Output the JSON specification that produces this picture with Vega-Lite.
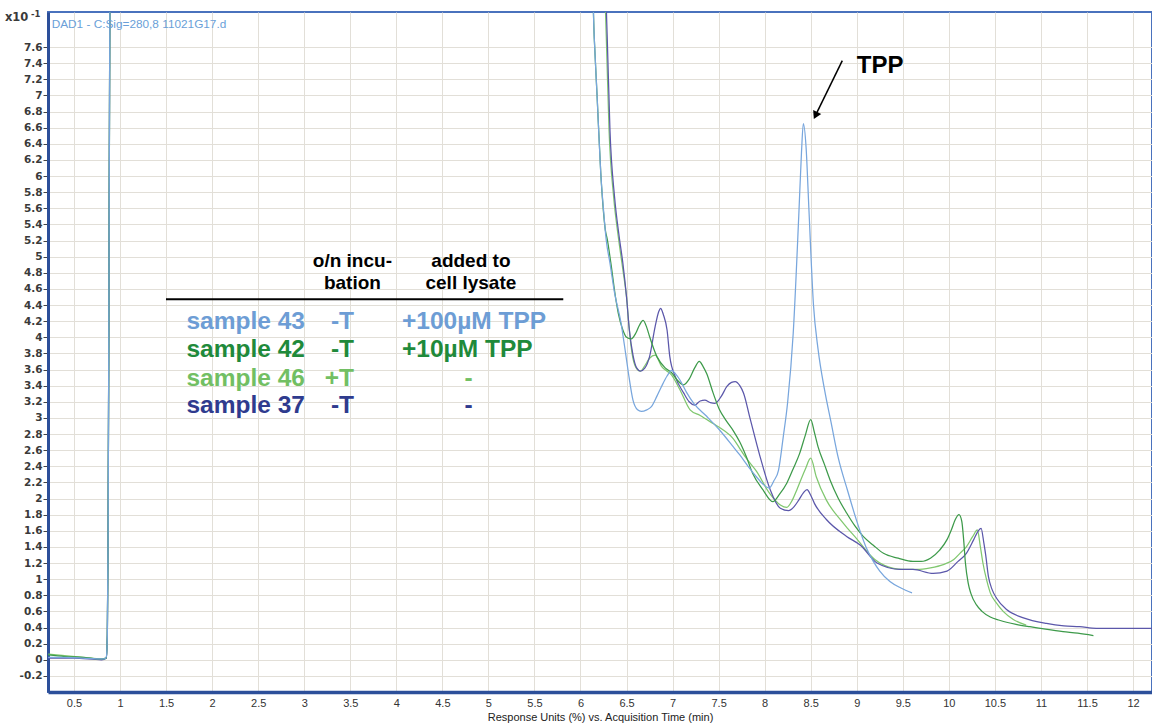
{
  "$schema": "https://vega.github.io/schema/vega-lite/v6.json",
  "width": 1104,
  "height": 680,
  "autosize": {"type": "none"},
  "padding": {"left": 48, "top": 12, "right": 0, "bottom": 35},
  "background": "white",
  "config": {
    "font": "Liberation Sans",
    "view": {"stroke": "#4a72bd", "strokeWidth": 2},
    "axis": {"gridColor": "#e2dfd8", "gridWidth": 1, "labelFont": "Liberation Sans", "labelColor": "#333333", "labelFontSize": 11}
  },
  "datasets": {
    "curves": [
      {"sample": "sample 46", "x": 0.22, "y": 0.07}, {"sample": "sample 46", "x": 0.4, "y": 0.05}, {"sample": "sample 46", "x": 0.6, "y": 0.03}, {"sample": "sample 46", "x": 0.8, "y": 0.01}, {"sample": "sample 46", "x": 0.85, "y": 0.02}, {"sample": "sample 46", "x": 0.862, "y": 0.3}, {"sample": "sample 46", "x": 0.87, "y": 1.5}, {"sample": "sample 46", "x": 0.878, "y": 4.0}, {"sample": "sample 46", "x": 0.886, "y": 7.0}, {"sample": "sample 46", "x": 0.892, "y": 8.6},
      {"sample": "sample 46", "x": 6.25, "y": 8.6}, {"sample": "sample 46", "x": 6.28, "y": 7.73}, {"sample": "sample 46", "x": 6.31, "y": 6.57}, {"sample": "sample 46", "x": 6.36, "y": 5.74}, {"sample": "sample 46", "x": 6.41, "y": 5.25}, {"sample": "sample 46", "x": 6.46, "y": 4.84}, {"sample": "sample 46", "x": 6.5, "y": 4.5}, {"sample": "sample 46", "x": 6.53, "y": 4.09}, {"sample": "sample 46", "x": 6.56, "y": 3.8}, {"sample": "sample 46", "x": 6.6, "y": 3.63}, {"sample": "sample 46", "x": 6.65, "y": 3.58}, {"sample": "sample 46", "x": 6.7, "y": 3.65}, {"sample": "sample 46", "x": 6.75, "y": 3.74}, {"sample": "sample 46", "x": 6.81, "y": 3.78}, {"sample": "sample 46", "x": 6.88, "y": 3.64}, {"sample": "sample 46", "x": 6.99, "y": 3.53}, {"sample": "sample 46", "x": 7.08, "y": 3.35}, {"sample": "sample 46", "x": 7.19, "y": 3.1}, {"sample": "sample 46", "x": 7.3, "y": 3.03}, {"sample": "sample 46", "x": 7.44, "y": 2.93}, {"sample": "sample 46", "x": 7.55, "y": 2.85}, {"sample": "sample 46", "x": 7.66, "y": 2.74}, {"sample": "sample 46", "x": 7.73, "y": 2.62}, {"sample": "sample 46", "x": 7.8, "y": 2.5}, {"sample": "sample 46", "x": 7.91, "y": 2.34}, {"sample": "sample 46", "x": 8.05, "y": 2.07}, {"sample": "sample 46", "x": 8.17, "y": 1.92}, {"sample": "sample 46", "x": 8.24, "y": 1.89}, {"sample": "sample 46", "x": 8.3, "y": 1.98}, {"sample": "sample 46", "x": 8.35, "y": 2.11}, {"sample": "sample 46", "x": 8.44, "y": 2.36}, {"sample": "sample 46", "x": 8.5, "y": 2.5}, {"sample": "sample 46", "x": 8.56, "y": 2.27}, {"sample": "sample 46", "x": 8.67, "y": 1.98}, {"sample": "sample 46", "x": 8.82, "y": 1.74}, {"sample": "sample 46", "x": 8.9, "y": 1.63}, {"sample": "sample 46", "x": 9.0, "y": 1.5}, {"sample": "sample 46", "x": 9.1, "y": 1.36}, {"sample": "sample 46", "x": 9.2, "y": 1.24}, {"sample": "sample 46", "x": 9.3, "y": 1.17}, {"sample": "sample 46", "x": 9.5, "y": 1.12}, {"sample": "sample 46", "x": 9.65, "y": 1.12}, {"sample": "sample 46", "x": 9.8, "y": 1.14}, {"sample": "sample 46", "x": 9.94, "y": 1.18}, {"sample": "sample 46", "x": 10.05, "y": 1.24}, {"sample": "sample 46", "x": 10.12, "y": 1.32}, {"sample": "sample 46", "x": 10.19, "y": 1.4}, {"sample": "sample 46", "x": 10.26, "y": 1.53}, {"sample": "sample 46", "x": 10.31, "y": 1.61}, {"sample": "sample 46", "x": 10.34, "y": 1.42}, {"sample": "sample 46", "x": 10.37, "y": 1.2}, {"sample": "sample 46", "x": 10.41, "y": 0.99}, {"sample": "sample 46", "x": 10.45, "y": 0.83}, {"sample": "sample 46", "x": 10.52, "y": 0.7}, {"sample": "sample 46", "x": 10.59, "y": 0.6}, {"sample": "sample 46", "x": 10.7, "y": 0.5}, {"sample": "sample 46", "x": 10.84, "y": 0.43},

      {"sample": "sample 37", "x": 0.22, "y": 0.02}, {"sample": "sample 37", "x": 0.5, "y": 0.02}, {"sample": "sample 37", "x": 0.8, "y": 0.0}, {"sample": "sample 37", "x": 0.85, "y": 0.02}, {"sample": "sample 37", "x": 0.862, "y": 0.3}, {"sample": "sample 37", "x": 0.87, "y": 1.5}, {"sample": "sample 37", "x": 0.878, "y": 4.0}, {"sample": "sample 37", "x": 0.886, "y": 7.0}, {"sample": "sample 37", "x": 0.892, "y": 8.6},
      {"sample": "sample 37", "x": 6.26, "y": 8.6}, {"sample": "sample 37", "x": 6.29, "y": 7.73}, {"sample": "sample 37", "x": 6.32, "y": 6.57}, {"sample": "sample 37", "x": 6.37, "y": 5.74}, {"sample": "sample 37", "x": 6.42, "y": 5.25}, {"sample": "sample 37", "x": 6.46, "y": 4.92}, {"sample": "sample 37", "x": 6.5, "y": 4.5}, {"sample": "sample 37", "x": 6.53, "y": 4.1}, {"sample": "sample 37", "x": 6.57, "y": 3.78}, {"sample": "sample 37", "x": 6.61, "y": 3.62}, {"sample": "sample 37", "x": 6.65, "y": 3.58}, {"sample": "sample 37", "x": 6.7, "y": 3.62}, {"sample": "sample 37", "x": 6.75, "y": 3.76}, {"sample": "sample 37", "x": 6.81, "y": 4.13}, {"sample": "sample 37", "x": 6.85, "y": 4.32}, {"sample": "sample 37", "x": 6.87, "y": 4.36}, {"sample": "sample 37", "x": 6.9, "y": 4.28}, {"sample": "sample 37", "x": 6.94, "y": 4.09}, {"sample": "sample 37", "x": 6.97, "y": 3.76}, {"sample": "sample 37", "x": 7.03, "y": 3.51}, {"sample": "sample 37", "x": 7.12, "y": 3.31}, {"sample": "sample 37", "x": 7.18, "y": 3.2}, {"sample": "sample 37", "x": 7.24, "y": 3.16}, {"sample": "sample 37", "x": 7.3, "y": 3.21}, {"sample": "sample 37", "x": 7.35, "y": 3.22}, {"sample": "sample 37", "x": 7.41, "y": 3.19}, {"sample": "sample 37", "x": 7.46, "y": 3.18}, {"sample": "sample 37", "x": 7.53, "y": 3.27}, {"sample": "sample 37", "x": 7.59, "y": 3.39}, {"sample": "sample 37", "x": 7.64, "y": 3.44}, {"sample": "sample 37", "x": 7.68, "y": 3.45}, {"sample": "sample 37", "x": 7.73, "y": 3.4}, {"sample": "sample 37", "x": 7.77, "y": 3.31}, {"sample": "sample 37", "x": 7.84, "y": 3.0}, {"sample": "sample 37", "x": 7.95, "y": 2.52}, {"sample": "sample 37", "x": 8.06, "y": 2.11}, {"sample": "sample 37", "x": 8.17, "y": 1.88}, {"sample": "sample 37", "x": 8.26, "y": 1.85}, {"sample": "sample 37", "x": 8.32, "y": 1.9}, {"sample": "sample 37", "x": 8.37, "y": 1.98}, {"sample": "sample 37", "x": 8.42, "y": 2.07}, {"sample": "sample 37", "x": 8.46, "y": 2.11}, {"sample": "sample 37", "x": 8.5, "y": 2.04}, {"sample": "sample 37", "x": 8.54, "y": 1.94}, {"sample": "sample 37", "x": 8.67, "y": 1.74}, {"sample": "sample 37", "x": 8.89, "y": 1.53}, {"sample": "sample 37", "x": 9.04, "y": 1.42}, {"sample": "sample 37", "x": 9.22, "y": 1.2}, {"sample": "sample 37", "x": 9.47, "y": 1.12}, {"sample": "sample 37", "x": 9.61, "y": 1.12}, {"sample": "sample 37", "x": 9.83, "y": 1.07}, {"sample": "sample 37", "x": 9.98, "y": 1.1}, {"sample": "sample 37", "x": 10.1, "y": 1.22}, {"sample": "sample 37", "x": 10.19, "y": 1.32}, {"sample": "sample 37", "x": 10.27, "y": 1.49}, {"sample": "sample 37", "x": 10.32, "y": 1.6}, {"sample": "sample 37", "x": 10.35, "y": 1.63}, {"sample": "sample 37", "x": 10.38, "y": 1.45}, {"sample": "sample 37", "x": 10.4, "y": 1.3}, {"sample": "sample 37", "x": 10.43, "y": 1.03}, {"sample": "sample 37", "x": 10.47, "y": 0.87}, {"sample": "sample 37", "x": 10.52, "y": 0.76}, {"sample": "sample 37", "x": 10.63, "y": 0.62}, {"sample": "sample 37", "x": 10.81, "y": 0.52}, {"sample": "sample 37", "x": 11.06, "y": 0.45}, {"sample": "sample 37", "x": 11.25, "y": 0.42}, {"sample": "sample 37", "x": 11.42, "y": 0.41}, {"sample": "sample 37", "x": 11.6, "y": 0.39}, {"sample": "sample 37", "x": 12.0, "y": 0.39}, {"sample": "sample 37", "x": 12.21, "y": 0.39},

      {"sample": "sample 42", "x": 0.22, "y": 0.06}, {"sample": "sample 42", "x": 0.4, "y": 0.04}, {"sample": "sample 42", "x": 0.6, "y": 0.03}, {"sample": "sample 42", "x": 0.8, "y": 0.01}, {"sample": "sample 42", "x": 0.85, "y": 0.02}, {"sample": "sample 42", "x": 0.862, "y": 0.3}, {"sample": "sample 42", "x": 0.87, "y": 1.5}, {"sample": "sample 42", "x": 0.878, "y": 4.0}, {"sample": "sample 42", "x": 0.886, "y": 7.0}, {"sample": "sample 42", "x": 0.892, "y": 8.6},
      {"sample": "sample 42", "x": 6.12, "y": 8.6}, {"sample": "sample 42", "x": 6.15, "y": 7.7}, {"sample": "sample 42", "x": 6.18, "y": 7.0}, {"sample": "sample 42", "x": 6.22, "y": 6.04}, {"sample": "sample 42", "x": 6.25, "y": 5.55}, {"sample": "sample 42", "x": 6.27, "y": 5.33}, {"sample": "sample 42", "x": 6.29, "y": 5.22}, {"sample": "sample 42", "x": 6.33, "y": 4.92}, {"sample": "sample 42", "x": 6.38, "y": 4.5}, {"sample": "sample 42", "x": 6.41, "y": 4.3}, {"sample": "sample 42", "x": 6.46, "y": 4.09}, {"sample": "sample 42", "x": 6.5, "y": 4.0}, {"sample": "sample 42", "x": 6.55, "y": 3.98}, {"sample": "sample 42", "x": 6.6, "y": 4.05}, {"sample": "sample 42", "x": 6.64, "y": 4.15}, {"sample": "sample 42", "x": 6.68, "y": 4.21}, {"sample": "sample 42", "x": 6.72, "y": 4.12}, {"sample": "sample 42", "x": 6.75, "y": 4.01}, {"sample": "sample 42", "x": 6.83, "y": 3.76}, {"sample": "sample 42", "x": 6.92, "y": 3.62}, {"sample": "sample 42", "x": 6.99, "y": 3.56}, {"sample": "sample 42", "x": 7.05, "y": 3.47}, {"sample": "sample 42", "x": 7.12, "y": 3.41}, {"sample": "sample 42", "x": 7.18, "y": 3.48}, {"sample": "sample 42", "x": 7.24, "y": 3.62}, {"sample": "sample 42", "x": 7.29, "y": 3.7}, {"sample": "sample 42", "x": 7.33, "y": 3.64}, {"sample": "sample 42", "x": 7.37, "y": 3.55}, {"sample": "sample 42", "x": 7.44, "y": 3.31}, {"sample": "sample 42", "x": 7.51, "y": 3.1}, {"sample": "sample 42", "x": 7.58, "y": 2.97}, {"sample": "sample 42", "x": 7.66, "y": 2.84}, {"sample": "sample 42", "x": 7.73, "y": 2.7}, {"sample": "sample 42", "x": 7.8, "y": 2.52}, {"sample": "sample 42", "x": 7.87, "y": 2.31}, {"sample": "sample 42", "x": 7.98, "y": 2.11}, {"sample": "sample 42", "x": 8.09, "y": 1.96}, {"sample": "sample 42", "x": 8.16, "y": 2.05}, {"sample": "sample 42", "x": 8.24, "y": 2.19}, {"sample": "sample 42", "x": 8.31, "y": 2.37}, {"sample": "sample 42", "x": 8.38, "y": 2.56}, {"sample": "sample 42", "x": 8.44, "y": 2.78}, {"sample": "sample 42", "x": 8.5, "y": 2.98}, {"sample": "sample 42", "x": 8.54, "y": 2.82}, {"sample": "sample 42", "x": 8.58, "y": 2.64}, {"sample": "sample 42", "x": 8.65, "y": 2.42}, {"sample": "sample 42", "x": 8.71, "y": 2.23}, {"sample": "sample 42", "x": 8.8, "y": 2.0}, {"sample": "sample 42", "x": 8.89, "y": 1.82}, {"sample": "sample 42", "x": 8.98, "y": 1.66}, {"sample": "sample 42", "x": 9.07, "y": 1.53}, {"sample": "sample 42", "x": 9.18, "y": 1.42}, {"sample": "sample 42", "x": 9.29, "y": 1.32}, {"sample": "sample 42", "x": 9.45, "y": 1.26}, {"sample": "sample 42", "x": 9.61, "y": 1.22}, {"sample": "sample 42", "x": 9.7, "y": 1.22}, {"sample": "sample 42", "x": 9.8, "y": 1.26}, {"sample": "sample 42", "x": 9.9, "y": 1.36}, {"sample": "sample 42", "x": 9.98, "y": 1.49}, {"sample": "sample 42", "x": 10.03, "y": 1.62}, {"sample": "sample 42", "x": 10.07, "y": 1.74}, {"sample": "sample 42", "x": 10.11, "y": 1.8}, {"sample": "sample 42", "x": 10.14, "y": 1.72}, {"sample": "sample 42", "x": 10.16, "y": 1.5}, {"sample": "sample 42", "x": 10.18, "y": 1.2}, {"sample": "sample 42", "x": 10.21, "y": 0.95}, {"sample": "sample 42", "x": 10.24, "y": 0.82}, {"sample": "sample 42", "x": 10.3, "y": 0.68}, {"sample": "sample 42", "x": 10.36, "y": 0.6}, {"sample": "sample 42", "x": 10.45, "y": 0.53}, {"sample": "sample 42", "x": 10.55, "y": 0.49}, {"sample": "sample 42", "x": 10.73, "y": 0.44}, {"sample": "sample 42", "x": 10.88, "y": 0.41}, {"sample": "sample 42", "x": 11.05, "y": 0.38}, {"sample": "sample 42", "x": 11.24, "y": 0.35}, {"sample": "sample 42", "x": 11.4, "y": 0.33}, {"sample": "sample 42", "x": 11.57, "y": 0.3},

      {"sample": "sample 43", "x": 0.22, "y": 0.03}, {"sample": "sample 43", "x": 0.4, "y": 0.03}, {"sample": "sample 43", "x": 0.6, "y": 0.02}, {"sample": "sample 43", "x": 0.75, "y": 0.01}, {"sample": "sample 43", "x": 0.83, "y": 0.01}, {"sample": "sample 43", "x": 0.852, "y": 0.04}, {"sample": "sample 43", "x": 0.862, "y": 0.3}, {"sample": "sample 43", "x": 0.87, "y": 1.5}, {"sample": "sample 43", "x": 0.878, "y": 4.0}, {"sample": "sample 43", "x": 0.886, "y": 7.0}, {"sample": "sample 43", "x": 0.892, "y": 8.6},
      {"sample": "sample 43", "x": 6.12, "y": 8.6}, {"sample": "sample 43", "x": 6.15, "y": 7.7}, {"sample": "sample 43", "x": 6.18, "y": 7.0}, {"sample": "sample 43", "x": 6.2, "y": 6.5}, {"sample": "sample 43", "x": 6.22, "y": 6.04}, {"sample": "sample 43", "x": 6.25, "y": 5.58}, {"sample": "sample 43", "x": 6.28, "y": 5.2}, {"sample": "sample 43", "x": 6.32, "y": 4.92}, {"sample": "sample 43", "x": 6.37, "y": 4.55}, {"sample": "sample 43", "x": 6.44, "y": 4.18}, {"sample": "sample 43", "x": 6.49, "y": 3.8}, {"sample": "sample 43", "x": 6.52, "y": 3.56}, {"sample": "sample 43", "x": 6.57, "y": 3.22}, {"sample": "sample 43", "x": 6.62, "y": 3.1}, {"sample": "sample 43", "x": 6.66, "y": 3.08}, {"sample": "sample 43", "x": 6.72, "y": 3.1}, {"sample": "sample 43", "x": 6.77, "y": 3.14}, {"sample": "sample 43", "x": 6.83, "y": 3.27}, {"sample": "sample 43", "x": 6.88, "y": 3.39}, {"sample": "sample 43", "x": 6.94, "y": 3.52}, {"sample": "sample 43", "x": 6.99, "y": 3.59}, {"sample": "sample 43", "x": 7.03, "y": 3.55}, {"sample": "sample 43", "x": 7.08, "y": 3.47}, {"sample": "sample 43", "x": 7.15, "y": 3.32}, {"sample": "sample 43", "x": 7.23, "y": 3.18}, {"sample": "sample 43", "x": 7.37, "y": 3.02}, {"sample": "sample 43", "x": 7.51, "y": 2.85}, {"sample": "sample 43", "x": 7.66, "y": 2.64}, {"sample": "sample 43", "x": 7.73, "y": 2.54}, {"sample": "sample 43", "x": 7.82, "y": 2.4}, {"sample": "sample 43", "x": 7.91, "y": 2.27}, {"sample": "sample 43", "x": 7.98, "y": 2.18}, {"sample": "sample 43", "x": 8.05, "y": 2.13}, {"sample": "sample 43", "x": 8.1, "y": 2.22}, {"sample": "sample 43", "x": 8.15, "y": 2.35}, {"sample": "sample 43", "x": 8.2, "y": 2.75}, {"sample": "sample 43", "x": 8.25, "y": 3.2}, {"sample": "sample 43", "x": 8.31, "y": 4.05}, {"sample": "sample 43", "x": 8.37, "y": 5.5}, {"sample": "sample 43", "x": 8.4, "y": 6.3}, {"sample": "sample 43", "x": 8.42, "y": 6.65}, {"sample": "sample 43", "x": 8.45, "y": 6.35}, {"sample": "sample 43", "x": 8.48, "y": 5.6}, {"sample": "sample 43", "x": 8.53, "y": 4.4}, {"sample": "sample 43", "x": 8.58, "y": 3.85}, {"sample": "sample 43", "x": 8.65, "y": 3.35}, {"sample": "sample 43", "x": 8.72, "y": 2.95}, {"sample": "sample 43", "x": 8.8, "y": 2.5}, {"sample": "sample 43", "x": 8.9, "y": 2.1}, {"sample": "sample 43", "x": 9.0, "y": 1.72}, {"sample": "sample 43", "x": 9.1, "y": 1.4}, {"sample": "sample 43", "x": 9.18, "y": 1.22}, {"sample": "sample 43", "x": 9.25, "y": 1.1}, {"sample": "sample 43", "x": 9.36, "y": 0.97}, {"sample": "sample 43", "x": 9.48, "y": 0.89}, {"sample": "sample 43", "x": 9.6, "y": 0.83}
    ],
    "table": [
      {"col": "name", "sample": "sample 43", "text": "sample 43", "x": 3.008, "y": 4.104},
      {"col": "name", "sample": "sample 42", "text": "sample 42", "x": 3.008, "y": 3.757},
      {"col": "name", "sample": "sample 46", "text": "sample 46", "x": 3.008, "y": 3.401},
      {"col": "name", "sample": "sample 37", "text": "sample 37", "x": 3.008, "y": 3.063},
      {"col": "inc", "sample": "sample 43", "text": "-T", "x": 3.541, "y": 4.104},
      {"col": "inc", "sample": "sample 42", "text": "-T", "x": 3.541, "y": 3.757},
      {"col": "inc", "sample": "sample 46", "text": "+T", "x": 3.541, "y": 3.401},
      {"col": "inc", "sample": "sample 37", "text": "-T", "x": 3.541, "y": 3.063},
      {"col": "add", "sample": "sample 43", "text": "+100µM TPP", "x": 4.062, "y": 4.104},
      {"col": "add", "sample": "sample 42", "text": "+10µM TPP", "x": 4.062, "y": 3.757},
      {"col": "dash", "sample": "sample 46", "text": "-", "x": 4.784, "y": 3.401},
      {"col": "dash", "sample": "sample 37", "text": "-", "x": 4.784, "y": 3.063}
    ],
    "header": [
      {"text": "o/n incu-", "x": 3.523, "y": 4.877},
      {"text": "bation", "x": 3.523, "y": 4.597},
      {"text": "added to", "x": 4.81, "y": 4.877},
      {"text": "cell lysate", "x": 4.81, "y": 4.597}
    ]
  },
  "encoding": {
    "x": {
      "field": "x", "type": "quantitative",
      "scale": {"domain": [0.2177, 12.206], "nice": false, "zero": false},
      "axis": {
        "title": "Response Units (%) vs. Acquisition Time (min)",
        "titleFont": "Liberation Sans", "titleFontSize": 11, "titleFontWeight": "normal", "titleColor": "#222222", "titlePadding": 3,
        "values": [0.5, 1, 1.5, 2, 2.5, 3, 3.5, 4, 4.5, 5, 5.5, 6, 6.5, 7, 7.5, 8, 8.5, 9, 9.5, 10, 10.5, 11, 11.5, 12],
        "labelExpr": "'' + datum.value",
        "ticks": false, "labelPadding": 5, "labelFlush": false,
        "domainColor": "#2c4f9a", "domainWidth": 3.5
      }
    },
    "y": {
      "field": "y", "type": "quantitative",
      "scale": {"domain": [-0.4, 8.035], "nice": false, "zero": false},
      "axis": {
        "title": null,
        "values": [-0.2, 0, 0.2, 0.4, 0.6, 0.8, 1, 1.2, 1.4, 1.6, 1.8, 2, 2.2, 2.4, 2.6, 2.8, 3, 3.2, 3.4, 3.6, 3.8, 4, 4.2, 4.4, 4.6, 4.8, 5, 5.2, 5.4, 5.6, 5.8, 6, 6.2, 6.4, 6.6, 6.8, 7, 7.2, 7.4, 7.6],
        "labelExpr": "'' + round(datum.value * 10) / 10",
        "labelFont": "DejaVu Sans", "labelFontSize": 10.5, "labelFontWeight": "bold", "labelColor": "#3a3a3a",
        "tickSize": 5, "tickColor": "#444444", "labelPadding": 1, "labelFlush": false,
        "domainColor": "#2c4f9a", "domainWidth": 3
      }
    }
  },
  "layer": [
    {
      "data": {"name": "curves"},
      "mark": {"type": "line", "clip": true, "strokeWidth": 1.25, "interpolate": "monotone"},
      "encoding": {
        "color": {"field": "sample", "type": "nominal", "legend": null,
          "scale": {"domain": ["sample 43", "sample 42", "sample 46", "sample 37"], "range": ["#78a6dd", "#3d9a4a", "#80c76f", "#5b57aa"]}},
        "detail": {"field": "sample"}
      }
    },
    {
      "data": {"values": [{}]},
      "mark": {"type": "rect", "fill": "white", "stroke": null},
      "encoding": {
        "x": {"datum": 0.2177}, "x2": {"datum": 12.206},
        "y": {"datum": 7.712}, "y2": {"datum": 8.035}
      }
    },
    {
      "data": {"values": [{"text": "DAD1 - C:Sig=280,8 11021G17.d", "x": 0.258, "y": 7.833}]},
      "mark": {"type": "text", "align": "left", "baseline": "alphabetic", "fontSize": 11.8, "color": "#6a9fd8"},
      "encoding": {"text": {"field": "text"}}
    },
    {
      "data": {"values": [{"text": "x10", "x": 0.004, "y": 7.927}]},
      "mark": {"type": "text", "align": "right", "baseline": "alphabetic", "fontSize": 11.5, "fontWeight": "bold", "font": "DejaVu Sans", "color": "#3a3a3a"},
      "encoding": {"text": {"field": "text"}}
    },
    {
      "data": {"values": [{"text": "-1", "x": 0.033, "y": 7.967}]},
      "mark": {"type": "text", "align": "left", "baseline": "alphabetic", "fontSize": 8.5, "fontWeight": "bold", "font": "DejaVu Sans", "color": "#3a3a3a"},
      "encoding": {"text": {"field": "text"}}
    },
    {
      "data": {"name": "header"},
      "mark": {"type": "text", "align": "center", "baseline": "alphabetic", "fontSize": 19, "fontWeight": "bold", "color": "#000000"},
      "encoding": {"text": {"field": "text"}}
    },
    {
      "data": {"values": [{"x": 1.499, "x2": 5.813, "y": 4.472}]},
      "mark": {"type": "rule", "color": "#000000", "strokeWidth": 2},
      "encoding": {"x2": {"field": "x2"}}
    },
    {
      "data": {"name": "table"},
      "transform": [{"filter": "datum.col === 'name' || datum.col === 'inc'"}],
      "mark": {"type": "text", "align": "right", "baseline": "alphabetic", "fontSize": 24.5, "fontWeight": "bold"},
      "encoding": {
        "text": {"field": "text"},
        "color": {"field": "sample", "type": "nominal", "legend": null,
          "scale": {"domain": ["sample 43", "sample 42", "sample 46", "sample 37"], "range": ["#6d9dd5", "#1f8a3b", "#72bf63", "#2f3b8e"]}}
      }
    },
    {
      "data": {"name": "table"},
      "transform": [{"filter": "datum.col === 'add'"}],
      "mark": {"type": "text", "align": "left", "baseline": "alphabetic", "fontSize": 24.5, "fontWeight": "bold"},
      "encoding": {
        "text": {"field": "text"},
        "color": {"field": "sample", "type": "nominal", "legend": null,
          "scale": {"domain": ["sample 43", "sample 42", "sample 46", "sample 37"], "range": ["#6d9dd5", "#1f8a3b", "#72bf63", "#2f3b8e"]}}
      }
    },
    {
      "data": {"name": "table"},
      "transform": [{"filter": "datum.col === 'dash'"}],
      "mark": {"type": "text", "align": "center", "baseline": "alphabetic", "fontSize": 24.5, "fontWeight": "bold"},
      "encoding": {
        "text": {"field": "text"},
        "color": {"field": "sample", "type": "nominal", "legend": null,
          "scale": {"domain": ["sample 43", "sample 42", "sample 46", "sample 37"], "range": ["#6d9dd5", "#1f8a3b", "#72bf63", "#2f3b8e"]}}
      }
    },
    {
      "data": {"values": [{"text": "TPP", "x": 9.0, "y": 7.278}]},
      "mark": {"type": "text", "align": "left", "baseline": "alphabetic", "fontSize": 24, "fontWeight": "bold", "color": "#000000"},
      "encoding": {"text": {"field": "text"}}
    },
    {
      "data": {"values": [{"x": 8.843, "y": 7.431, "x2": 8.552, "y2": 6.752}]},
      "mark": {"type": "rule", "color": "#000000", "strokeWidth": 1.5},
      "encoding": {"x2": {"field": "x2"}, "y2": {"field": "y2"}}
    },
    {
      "data": {"values": [{"x": 8.552, "y": 6.752}]},
      "mark": {"type": "point", "shape": "triangle-up", "angle": 206, "size": 80, "filled": true, "color": "#000000", "opacity": 1},
      "encoding": {}
    }
  ],
  "resolve": {"scale": {"color": "independent"}}
}
